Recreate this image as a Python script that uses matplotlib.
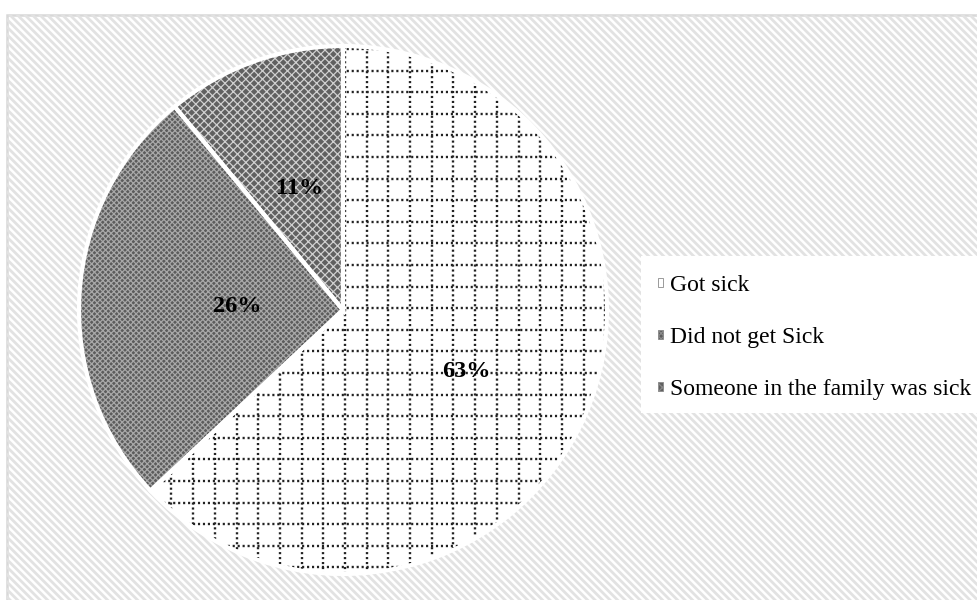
import numpy as np
import matplotlib
matplotlib.use("Agg")
import matplotlib.pyplot as plt
from matplotlib.patches import Rectangle

# survey answers (percent)
labels = ["Got sick", "Did not get Sick", "Someone in the family was sick"]
values = [63, 26, 11]

plt.rcParams['font.family'] = ['Liberation Serif', 'DejaVu Serif']
plt.rcParams['hatch.linewidth'] = 0.9

W, H = 977, 600
fig = plt.figure(figsize=(W / 100, H / 100), dpi=100)
ax = fig.add_axes([0, 0, 1, 1])

cx, cy, R = 343, 290, 264

# pie with textured fills
face = ['white', '#5c5c5c', '#606060']
hatch_col = ['white', '#a8a8a8', '#d0d0d0']
hatches = [None, 'xxxxxx', 'xxxx']
wedges, _ = ax.pie(values, startangle=90, counterclock=False,
                   center=(cx, cy), radius=R,
                   wedgeprops=dict(linewidth=0))
for w, fc, hc, h in zip(wedges, face, hatch_col, hatches):
    w.set_facecolor(fc)
    w.set_edgecolor(hc)
    w.set_linewidth(0)
    if h:
        w.set_hatch(h)
    w.set_zorder(2)

# white separators and outline
outline, _ = ax.pie(values, startangle=90, counterclock=False,
                    center=(cx, cy), radius=R,
                    wedgeprops=dict(fill=False, edgecolor='white', linewidth=3))
for w in outline:
    w.set_zorder(4)

ax.set_xlim(0, W)
ax.set_ylim(0, H)
ax.set_aspect('auto')
ax.axis('off')

# striped panel behind the chart
px0, py1 = 7, H - 15
panel = Rectangle((px0, -5), W + 10 - px0, py1 + 5, facecolor='white',
                  edgecolor='#d8d8d8', linewidth=1.8, zorder=0)
ax.add_patch(panel)
for c in np.arange(-H, W + H, 7.5):
    ln, = ax.plot([c, c + H + 20], [H + 10, -10], color='#e2e2e2',
                  linewidth=2.0, zorder=0.5, solid_capstyle='butt')
    ln.set_clip_path(panel)

# white legend area
ax.add_patch(Rectangle((641, H - 413), W - 641 + 5, 413 - 256,
                       facecolor='white', edgecolor='none', zorder=1))

# dotted grid on the largest slice
big = wedges[0]
dots = dict(color='#222222', linewidth=1.7, linestyle=(0, (0.9, 1.2)), zorder=3)
for gx in np.arange(cx + 2, cx + R + 5, 21.7):
    ln, = ax.plot([gx, gx], [cy - R - 5, cy + R + 5], **dots)
    ln.set_clip_path(big)
for gx in np.arange(cx + 2 - 21.7, cx - R - 5, -21.7):
    ln, = ax.plot([gx, gx], [cy - R - 5, cy + R + 5], **dots)
    ln.set_clip_path(big)
for gy in np.arange(H - 49, cy - R - 5, -21.6):
    ln, = ax.plot([cx - R - 5, cx + R + 5], [gy, gy], **dots)
    ln.set_clip_path(big)

# percent labels
label_dist = [0.52, 0.40, 0.49]
label_shift = [-3, 1.5, 0]
for w, v, d, s in zip(wedges, values, label_dist, label_shift):
    ang = np.deg2rad((w.theta1 + w.theta2) / 2 + s)
    ax.text(cx + d * R * np.cos(ang), cy + d * R * np.sin(ang), f"{v}%",
            ha='center', va='center', fontsize=17.5, fontweight='bold',
            zorder=5)

leg = fig.legend(wedges, labels, loc='upper left',
                 bbox_to_anchor=(658 / W, (H - 275) / H),
                 frameon=False, fontsize=17, handlelength=0.22,
                 handleheight=0.22, handletextpad=0.3, labelspacing=1.32,
                 borderpad=0, borderaxespad=0)
for hd in leg.legend_handles:
    hd.set_edgecolor('#8a8a8a')
    hd.set_linewidth(0.6)

fig.savefig("out.png", dpi=100)
